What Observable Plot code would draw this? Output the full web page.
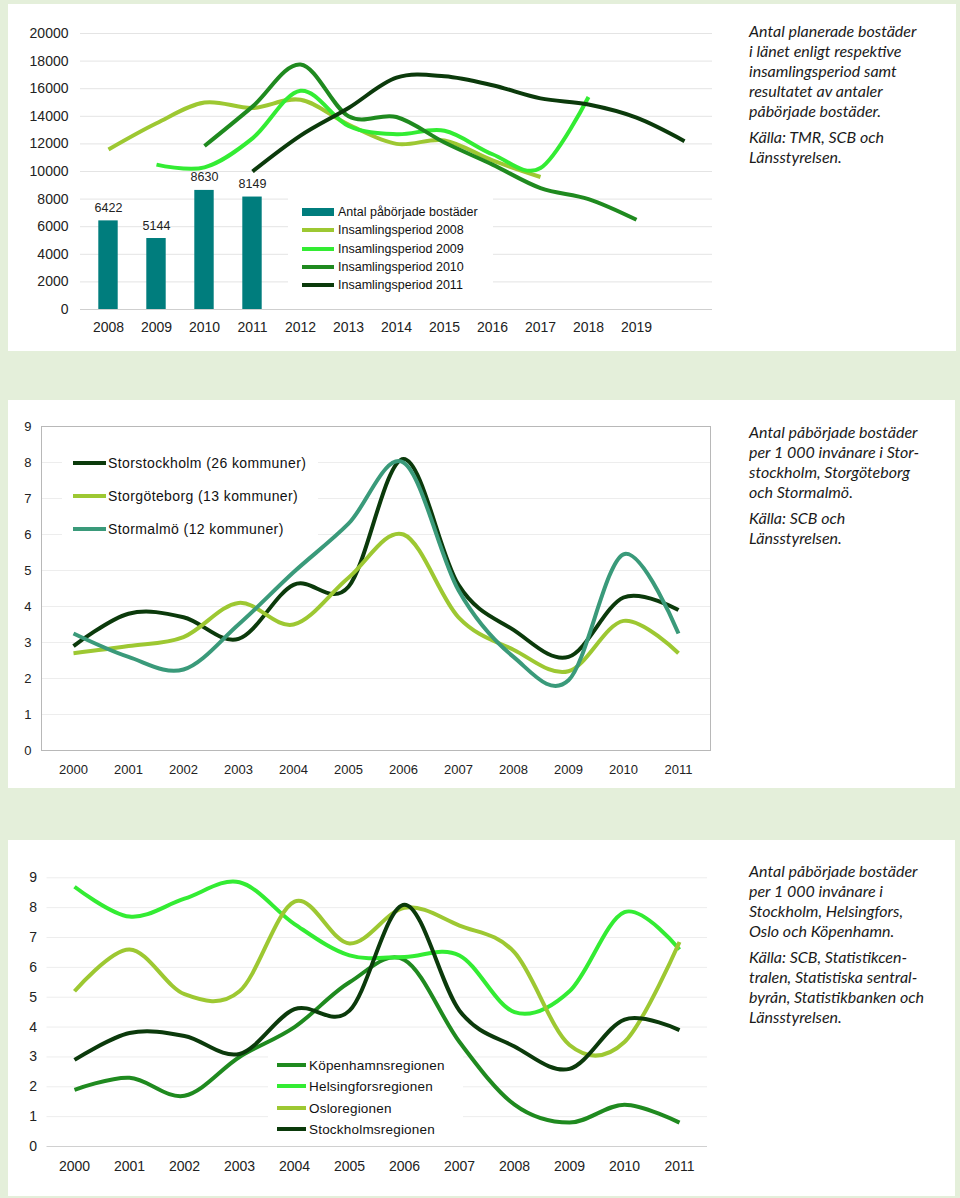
<!DOCTYPE html>
<html>
<head>
<meta charset="utf-8">
<script src="https://cdn.jsdelivr.net/npm/d3@7"></script>
<script src="https://cdn.jsdelivr.net/npm/@observablehq/plot@0.6"></script>
<style>
html, body { margin: 0; padding: 0; }
body { width: 960px; height: 1198px; background: #e4efda; position: relative; overflow: hidden;
       font-family: "Liberation Sans", Arial, sans-serif; }
.panel { position: absolute; background: #fff; }
.panel svg { position: absolute; left: 0; top: 0; overflow: visible; }
.note { position: absolute; left: 741px; font-family: Lato, "Open Sans", sans-serif; font-style: italic;
        font-size: 16px; line-height: 20px; color: #1a1a1a; width: 205px; white-space: nowrap; }
.note p { margin: 0 0 6px 0; }
.legend { position: absolute; background: #fff; }
.row { position: absolute; height: 0; white-space: nowrap; color: #111; }
.row .sw { position: absolute; }
.row .lb { position: absolute; top: 0; transform: translateY(-50%); }
</style>
</head>
<body>
<div id="p1" class="panel" style="left:8px;top:4px;width:948px;height:347px;">
  <div class="note" style="top:17px;">
    <p>Antal planerade bostäder<br>i länet enligt respektive<br>insamlingsperiod samt<br>resultatet av antaler<br>påbörjade bostäder.</p>
    <p>Källa: TMR, SCB och<br>Länsstyrelsen.</p>
  </div>
</div>
<div id="p2" class="panel" style="left:8px;top:400px;width:947px;height:388px;">
  <div class="note" style="top:22px;">
    <p>Antal påbörjade bostäder<br>per 1&#8239;000 invånare i Stor-<br>stockholm, Storgöteborg<br>och Stormalmö.</p>
    <p>Källa: SCB och<br>Länsstyrelsen.</p>
  </div>
</div>
<div id="p3" class="panel" style="left:8px;top:840px;width:947px;height:356px;">
  <div class="note" style="top:21px;">
    <p>Antal påbörjade bostäder<br>per 1&#8239;000 invånare i<br>Stockholm, Helsingfors,<br>Oslo och Köpenhamn.</p>
    <p>Källa: SCB, Statistikcen-<br>tralen, Statistiska sentral-<br>byrån, Statistikbanken och<br>Länsstyrelsen.</p>
  </div>
</div>
<script>
// ---------------- Panel 1 data ----------------
const years1 = ["2008","2009","2010","2011","2012","2013","2014","2015","2016","2017","2018","2019","2020"];
const xTickLabels1 = ["2008","2009","2010","2011","2012","2013","2014","2015","2016","2017","2018","2019"];
const yTicks1 = [0, 2000, 4000, 6000, 8000, 10000, 12000, 14000, 16000, 18000, 20000];
const startedYears = ["2008","2009","2010","2011"];
const startedValues = [6422, 5144, 8630, 8149];
const period2008 = [11600, 13500, 15000, 14600, 15200, 13400, 12000, 12250, 10800, 9600];
const period2009 = [10500, 10300, 12400, 15850, 13300, 12700, 12950, 11250, 10250, 15400];
const period2010 = [11850, 14700, 17750, 14000, 13950, 12100, 10500, 8800, 8000, 6500];
const period2011 = [10000, 12600, 14600, 16800, 16900, 16250, 15300, 14850, 13900, 12200];
const legend1 = ["Antal påbörjade bostäder", "Insamlingsperiod 2008", "Insamlingsperiod 2009", "Insamlingsperiod 2010", "Insamlingsperiod 2011"];

// ---------------- Panel 2 data ----------------
const years2 = ["2000","2001","2002","2003","2004","2005","2006","2007","2008","2009","2010","2011"];
const yTicks2 = [0, 1, 2, 3, 4, 5, 6, 7, 8, 9];
const storstockholm = [2.9, 3.8, 3.7, 3.1, 4.6, 4.55, 8.1, 4.6, 3.35, 2.6, 4.25, 3.9];
const storgoteborg = [2.7, 2.9, 3.15, 4.1, 3.5, 4.8, 6.0, 3.7, 2.8, 2.2, 3.6, 2.7];
const stormalmo = [3.25, 2.6, 2.25, 3.5, 4.95, 6.3, 8.0, 4.45, 2.6, 1.95, 5.45, 3.25];
const legend2 = ["Storstockholm (26 kommuner)", "Storgöteborg (13 kommuner)", "Stormalmö (12 kommuner)"];

// ---------------- Panel 3 data ----------------
const kopenhamn = [1.9, 2.3, 1.7, 3.0, 4.0, 5.5, 6.25, 3.5, 1.4, 0.8, 1.4, 0.8];
const helsingfors = [8.7, 7.7, 8.3, 8.85, 7.45, 6.4, 6.35, 6.4, 4.5, 5.2, 7.85, 6.6];
const oslo = [5.2, 6.6, 5.1, 5.2, 8.2, 6.8, 8.0, 7.4, 6.5, 3.4, 3.5, 6.85];
const stockholmsregionen = [2.9, 3.8, 3.7, 3.1, 4.6, 4.55, 8.1, 4.55, 3.35, 2.6, 4.25, 3.9];
const legend3 = ["Köpenhamnsregionen", "Helsingforsregionen", "Osloregionen", "Stockholmsregionen"];

// ---------------- Styles ----------------
const TEAL = "#007d7d", YG = "#9dc832", BRIGHT = "#33ec33", FOREST = "#1f8a1f", DARK = "#0b3a0b", SEA = "#3a9a7a";
const FONT = "Liberation Sans, Arial, sans-serif";

function rows(years, values, series) {
  return values.map((v, i) => ({year: years[i], value: v, series}));
}
function lineMark(data, color, w = 4) {
  return Plot.line(data, {x: "year", y: "value", stroke: color, strokeWidth: w, curve: "cardinal",
                          strokeLinecap: "butt", strokeLinejoin: "round"});
}
function addLegend(panel, box, items, opts) {
  const lg = document.createElement("div");
  lg.className = "legend";
  Object.assign(lg.style, {left: box[0] + "px", top: box[1] + "px", width: box[2] + "px", height: box[3] + "px"});
  panel.appendChild(lg);
  items.forEach((it, i) => {
    const r = document.createElement("div");
    r.className = "row";
    r.style.left = "0px";
    r.style.top = (opts.y0 - box[1] + i * opts.dy) + "px";
    const sw = document.createElement("span");
    sw.className = "sw";
    const h = it.h || opts.sh;
    Object.assign(sw.style, {left: (opts.sx - box[0]) + "px", width: opts.sw + "px", height: h + "px",
                             top: (-h / 2) + "px", background: it.color});
    const lb = document.createElement("span");
    lb.className = "lb";
    lb.textContent = it.label;
    Object.assign(lb.style, {left: (opts.tx - box[0]) + "px", fontSize: opts.fs + "px",
                             letterSpacing: (opts.ls || 0) + "px", fontFamily: FONT});
    r.appendChild(sw); r.appendChild(lb);
    lg.appendChild(r);
  });
}

// ---------------- Panel 1 ----------------
{
  const bars = startedValues.map((v, i) => ({year: startedYears[i], value: v}));
  const p2008 = rows(years1.slice(0, 10), period2008, "2008");
  const p2009 = rows(years1.slice(1, 11), period2009, "2009");
  const p2010 = rows(years1.slice(2, 12), period2010, "2010");
  const p2011 = rows(years1.slice(3, 13), period2011, "2011");
  const chart = Plot.plot({
    width: 720, height: 340,
    marginLeft: 72, marginRight: 16, marginTop: 29, marginBottom: 35,
    style: {fontFamily: FONT, fontSize: "14px", color: "#222", background: "transparent", overflow: "visible"},
    x: {type: "band", domain: years1, padding: 0, tickSize: 0, tickPadding: 13,
        tickFormat: d => xTickLabels1.includes(d) ? d : "", label: null},
    y: {domain: [0, 20000], ticks: yTicks1, tickSize: 0, tickPadding: 12, tickFormat: d => String(d), label: null},
    marks: [
      Plot.ruleY(yTicks1.slice(1), {stroke: "#e4e4e4"}),
      Plot.ruleY([0], {stroke: "#cfcfcf"}),
      Plot.barY(bars, {x: "year", y: "value", fill: TEAL, insetLeft: 14.3, insetRight: 14.3}),
      Plot.text(bars, {x: "year", y: "value", text: d => String(d.value), dy: -9, lineAnchor: "bottom",
                       fontSize: 12.5, fill: "#222"}),
      lineMark(p2008, YG),
      lineMark(p2009, BRIGHT),
      lineMark(p2010, FOREST),
      lineMark(p2011, DARK)
    ]
  });
  const panel = document.getElementById("p1");
  panel.insertBefore(chart, panel.firstChild);
  addLegend(panel, [280, 193, 205, 102], [
    {label: legend1[0], color: TEAL, h: 8},
    {label: legend1[1], color: YG},
    {label: legend1[2], color: BRIGHT},
    {label: legend1[3], color: FOREST},
    {label: legend1[4], color: DARK}
  ], {y0: 208, dy: 18.3, sx: 294, sw: 32, sh: 4, tx: 330, fs: 12.5});
}

// ---------------- Panel 2 ----------------
{
  const chart = Plot.plot({
    width: 720, height: 388,
    marginLeft: 33, marginRight: 18, marginTop: 26, marginBottom: 38,
    style: {fontFamily: FONT, fontSize: "13px", color: "#222", background: "transparent", overflow: "visible"},
    x: {type: "point", domain: years2, padding: 0.5, tickSize: 0, tickPadding: 14, label: null},
    y: {domain: [0, 9], ticks: yTicks2, tickSize: 0, tickPadding: 10, label: null},
    marks: [
      Plot.ruleY(yTicks2.slice(1), {stroke: "#ededed"}),
      Plot.frame({stroke: "#b8b8b8"}),
      lineMark(rows(years2, storstockholm, "s"), DARK),
      lineMark(rows(years2, storgoteborg, "g"), YG),
      lineMark(rows(years2, stormalmo, "m"), SEA)
    ]
  });
  const panel = document.getElementById("p2");
  panel.insertBefore(chart, panel.firstChild);
  addLegend(panel, [54, 45, 256, 100], [
    {label: legend2[0], color: DARK},
    {label: legend2[1], color: YG},
    {label: legend2[2], color: SEA}
  ], {y0: 63, dy: 33, sx: 65, sw: 33, sh: 4, tx: 100, fs: 14, ls: 0.4});
}

// ---------------- Panel 3 ----------------
{
  const chart = Plot.plot({
    width: 720, height: 356,
    marginLeft: 38.5, marginRight: 21, marginTop: 37.3, marginBottom: 50,
    style: {fontFamily: FONT, fontSize: "14px", color: "#222", background: "transparent", overflow: "visible"},
    x: {type: "point", domain: years2, padding: 0.5, tickSize: 0, tickPadding: 15, label: null},
    y: {domain: [0, 9], ticks: yTicks2, tickSize: 0, tickPadding: 10, label: null},
    marks: [
      Plot.ruleY(yTicks2.slice(1), {stroke: "#ededed"}),
      Plot.ruleY([0], {stroke: "#d0d0d0"}),
      lineMark(rows(years2, kopenhamn, "k"), FOREST),
      lineMark(rows(years2, helsingfors, "h"), BRIGHT),
      lineMark(rows(years2, oslo, "o"), YG),
      lineMark(rows(years2, stockholmsregionen, "s"), DARK)
    ]
  });
  const panel = document.getElementById("p3");
  panel.insertBefore(chart, panel.firstChild);
  addLegend(panel, [260, 215, 195, 85], [
    {label: legend3[0], color: FOREST},
    {label: legend3[1], color: BRIGHT},
    {label: legend3[2], color: YG},
    {label: legend3[3], color: DARK}
  ], {y0: 225, dy: 21.3, sx: 269, sw: 29, sh: 4, tx: 301, fs: 13.5, ls: 0.2});
}
</script>
</body>
</html>
